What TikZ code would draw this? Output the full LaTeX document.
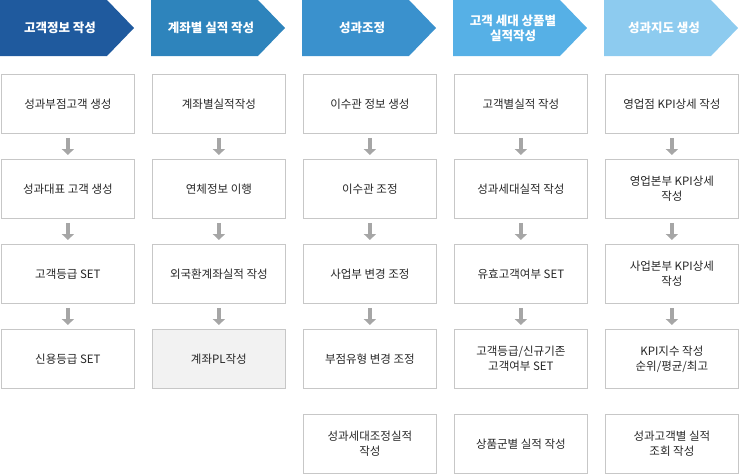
\documentclass[tikz,border=0pt]{standalone}
\usepackage{fontspec}
\setmainfont{Noto Sans CJK KR}
\usetikzlibrary{arrows.meta}
\definecolor{hA}{HTML}{1F5A9E}
\definecolor{hB}{HTML}{2E84BC}
\definecolor{hC}{HTML}{3A91CD}
\definecolor{hD}{HTML}{56B0E6}
\definecolor{hE}{HTML}{8DCBEF}
\tikzset{
 stepbox/.style={draw=black!22,line width=0.8pt,minimum width=133pt,minimum height=59pt,align=center,font=\fontsize{11.5}{15}\selectfont,text=black!85,anchor=north west,inner sep=2pt},
 headtxt/.style={text=white,font=\bfseries\fontsize{12.5}{15}\selectfont,align=center},
 flowarrow/.style={draw=black!35,line width=4pt,-{Triangle[length=6pt,width=12pt]},shorten <=4pt,shorten >=4pt}
}
\begin{document}
\begin{tikzpicture}[x=1pt,y=-1pt]
\useasboundingbox (0,0) rectangle (740,475);
\foreach \i/\x/\c/\t in {1/0/hA/고객정보 작성,2/151/hB/계좌별 실적 작성,3/302/hC/성과조정,4/453/hD/고객 세대 상품별\\실적작성,5/604/hE/성과지도 생성}{
  \fill[\c] (\x,0) -- (\x+107,0) -- (\x+134,28) -- (\x+107,56) -- (\x,56) -- cycle;
  \node[headtxt] (h\i) at (\x+60,28) {\t};
}
% column 1
\node[stepbox] (a1) at (1,74) {성과부점고객 생성};
\node[stepbox] (a2) at (1,159) {성과대표 고객 생성};
\node[stepbox] (a3) at (1,244) {고객등급 SET};
\node[stepbox] (a4) at (1,329) {신용등급 SET};
% column 2
\node[stepbox] (b1) at (152,74) {계좌별실적작성};
\node[stepbox] (b2) at (152,159) {연체정보 이행};
\node[stepbox] (b3) at (152,244) {외국환계좌실적 작성};
\node[stepbox,fill=black!5] (b4) at (152,329) {계좌PL작성};
% column 3
\node[stepbox] (c1) at (303,74) {이수관 정보 생성};
\node[stepbox] (c2) at (303,159) {이수관 조정};
\node[stepbox] (c3) at (303,244) {사업부 변경 조정};
\node[stepbox] (c4) at (303,329) {부점유형 변경 조정};
\node[stepbox] (c5) at (303,414) {성과세대조정실적\\작성};
% column 4
\node[stepbox] (d1) at (454,74) {고객별실적 작성};
\node[stepbox] (d2) at (454,159) {성과세대실적 작성};
\node[stepbox] (d3) at (454,244) {유효고객여부 SET};
\node[stepbox] (d4) at (454,329) {고객등급/신규기존\\고객여부 SET};
\node[stepbox] (d5) at (454,414) {상품군별 실적 작성};
% column 5
\node[stepbox] (e1) at (605,74) {영업점 KPI상세 작성};
\node[stepbox] (e2) at (605,159) {영업본부 KPI상세\\작성};
\node[stepbox] (e3) at (605,244) {사업본부 KPI상세\\작성};
\node[stepbox] (e4) at (605,329) {KPI지수 작성\\순위/평균/최고};
\node[stepbox] (e5) at (605,414) {성과고객별 실적\\조회 작성};
\foreach \p in {a,b,c,d,e}{
  \draw[flowarrow] (\p1) -- (\p2);
  \draw[flowarrow] (\p2) -- (\p3);
  \draw[flowarrow] (\p3) -- (\p4);
}
\end{tikzpicture}
\end{document}
